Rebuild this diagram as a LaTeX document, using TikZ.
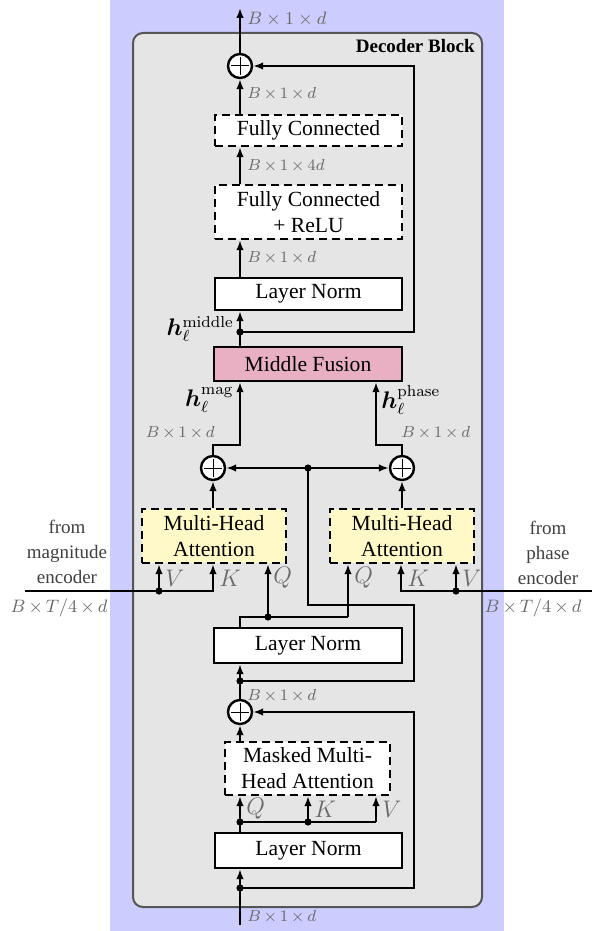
\documentclass[tikz,border=0pt]{standalone}
\usepackage[no-math]{fontspec}
\setmainfont{Liberation Serif}
\usepackage{bm}
\usetikzlibrary{arrows.meta,calc}

\definecolor{bgpurple}{RGB}{204,204,255}
\definecolor{blockgray}{RGB}{229,229,229}
\definecolor{blockedge}{RGB}{85,85,85}
\definecolor{attnyellow}{RGB}{255,249,200}
\definecolor{fusionpink}{RGB}{233,176,196}
\definecolor{dimgray}{RGB}{105,105,105}

\newcommand{\bxd}{$B\,{\times}\,1\,{\times}\,d$}

\begin{document}
\begin{tikzpicture}[x=0.5pt,y=-0.5pt,
  wire/.style={line width=1.3pt},
  conn/.style={line width=1.3pt,-{Latex[length=5pt,width=3.8pt]}},
  blk/.style={draw,line width=1.2pt,fill=white,inner sep=2pt,align=center,
    font=\fontsize{10.8}{13}\selectfont},
  dblk/.style={blk,dash pattern=on 4pt off 2.5pt},
  sumnode/.style={circle,draw,line width=1.2pt,fill=white,minimum size=12pt,inner sep=0pt,
    path picture={\draw[line width=0.5pt]
      ([xshift=-4.5pt]path picture bounding box.center) -- ([xshift=4.5pt]path picture bounding box.center)
      ([yshift=-4.5pt]path picture bounding box.center) -- ([yshift=4.5pt]path picture bounding box.center);}},
  dimlabel/.style={text=dimgray,font=\fontsize{8.5}{10}\selectfont,inner sep=0pt,anchor=west},
  qkv/.style={text=dimgray,font=\fontsize{12}{14}\selectfont,inner sep=0pt,anchor=west},
  hlabel/.style={font=\fontsize{12}{14}\selectfont,inner sep=0pt},
  side/.style={text=black!75,font=\fontsize{9.5}{12.5}\selectfont,align=center,inner sep=0pt},
]
% canvas and backgrounds
\fill[white] (0,0) rectangle (601,931);
\useasboundingbox (0,0) rectangle (601,931);
\fill[bgpurple] (110,0) rectangle (504,931);
\draw[blockedge,fill=blockgray,line width=1pt,rounded corners=5pt] (133,33) rectangle (482,907);
\node[anchor=east,inner sep=0pt,font=\bfseries\fontsize{9.5}{11}\selectfont] (title) at (475,46) {Decoder Block};

% blocks
\node[sumnode] (p1) at (240,66) {};
\node[dblk,minimum width=93.5pt,minimum height=15.5pt] (fc) at (308.5,130.5) {Fully Connected};
\node[dblk,minimum width=93.5pt,minimum height=27pt] (fcr) at (308.5,212) {Fully Connected\\+ ReLU};
\node[blk,minimum width=93.5pt,minimum height=16pt] (ln1) at (308.5,294) {Layer Norm};
\node[blk,fill=fusionpink,minimum width=94pt,minimum height=17pt] (mf) at (308,364) {Middle Fusion};
\node[sumnode] (p2) at (213,468) {};
\node[sumnode] (p3) at (402,468) {};
\node[dblk,fill=attnyellow,minimum width=72pt,minimum height=27pt] (mhal) at (214,536) {Multi-Head\\Attention};
\node[dblk,fill=attnyellow,minimum width=72pt,minimum height=27pt] (mhar) at (402,536) {Multi-Head\\Attention};
\node[blk,minimum width=94pt,minimum height=17.5pt] (ln2) at (308,645.5) {Layer Norm};
\node[sumnode] (p4) at (240,712) {};
\node[dblk,minimum width=82.5pt,minimum height=26.5pt] (mmha) at (307.5,768.5) {Masked Multi-\\Head Attention};
\node[blk,minimum width=93.5pt,minimum height=17.5pt] (ln3) at (308.5,850.5) {Layer Norm};

% junctions and corners
\coordinate (out) at (240,8);
\coordinate (in) at (240,925);
\coordinate (d1) at (240,332);
\coordinate (r1) at (414,332);
\coordinate (ml) at (240,445);
\coordinate (mr) at (376,445);
\coordinate (d2) at (308,468);
\coordinate (k2) at (308,605);
\coordinate (d3) at (240,681);
\coordinate (r3) at (414,681);
\coordinate (d4) at (268,617);
\coordinate (qr) at (348,617);
\coordinate (d5) at (240,888);
\coordinate (r5) at (414,888);
\coordinate (dq) at (240,822);
\coordinate (dk) at (308,822);
\coordinate (vq) at (376,822);
\coordinate (encl) at (25,591);
\coordinate (dvl) at (159,591);
\coordinate (kl) at (213,591);
\coordinate (encr) at (592,591);
\coordinate (dvr) at (456,591);
\coordinate (kr) at (401,591);

% feed-forward part
\draw[conn] (p1.north) -- (out);
\draw[conn] (fc.north -| p1) -- (p1.south);
\draw[conn] (fcr.north -| p1) -- (fc.south -| p1);
\draw[conn] (ln1.north -| p1) -- (fcr.south -| p1);
\draw[conn] (mf.north -| p1) -- (ln1.south -| p1);
\draw[conn] (d1) -- (r1) |- (p1.east);

% fusion of the two cross-attention branches
\draw[conn] (p2.north) |- (ml) -- (mf.south -| ml);
\draw[conn] (p3.north) |- (mr) -- (mf.south -| mr);
\draw[conn] (d2) -- (p2.east);
\draw[conn] (d2) -- (p3.west);
\draw[wire] (d3) -- (r3) -- (r3 |- k2) -- (k2) -- (d2);
\draw[conn] (mhal.north -| p2) -- (p2.south);
\draw[conn] (mhar.north -| p3) -- (p3.south);

% encoder inputs (keys and values)
\draw[conn] (encl) -- (kl) -- (mhal.south -| kl);
\draw[conn] (dvl) -- (mhal.south -| dvl);
\draw[conn] (encr) -- (kr) -- (mhar.south -| kr);
\draw[conn] (dvr) -- (mhar.south -| dvr);

% queries from the second layer norm
\draw[wire] (ln2.north -| d3) -- (d3 |- d4) -- (qr);
\draw[conn] (qr) -- (mhar.south -| qr);
\draw[conn] (d4) -- (mhal.south -| d4);

% masked self-attention part
\draw[conn] (p4.north) -- (ln2.south -| p4);
\draw[conn] (mmha.north -| p4) -- (p4.south);
\draw[conn] (d5) -- (r5) |- (p4.east);
\draw[conn] (in) -- (ln3.south -| in);
\draw[wire] (ln3.north -| dq) -- (dq) -- (vq);
\draw[conn] (dq) -- (mmha.south -| dq);
\draw[conn] (dk) -- (mmha.south -| dk);
\draw[conn] (vq) -- (mmha.south -| vq);

% junction dots
\foreach \j in {d1,d2,d3,d4,d5,dq,dk,dvl,dvr}
  \fill (\j) circle (1.8pt);

% tensor shapes
\node[dimlabel,font=\fontsize{9.5}{11}\selectfont] (dtop) at (247,19) {$B\times1\times d$};
\node[dimlabel] (dfc) at (247,94) {\bxd};
\node[dimlabel] (dfcr) at (247,166) {$B\,{\times}\,1\,{\times}\,4d$};
\node[dimlabel] (dln1) at (247,258) {\bxd};
\node[dimlabel,anchor=east] (dmag) at (215,433) {\bxd};
\node[dimlabel] (dphase) at (401,433) {\bxd};
\node[dimlabel] (dres) at (247,696) {\bxd};
\node[dimlabel] (din) at (247,917) {\bxd};
\node[dimlabel,anchor=center,font=\fontsize{9}{11}\selectfont] (encdl) at (59,608) {$B\,{\times}\,T/4\,{\times}\,d$};
\node[dimlabel,anchor=center,font=\fontsize{9}{11}\selectfont] (encdr) at (533,608) {$B\,{\times}\,T/4\,{\times}\,d$};

% encoder captions
\node[side] (encm) at (67,552) {from\\magnitude\\encoder};
\node[side] (encp) at (548,553) {from\\phase\\encoder};

% hidden states
\node[hlabel,anchor=east] (hmid) at (234,329) {$\bm{h}_\ell^{\mathrm{middle}}$};
\node[hlabel,anchor=east] (hmag) at (234,400) {$\bm{h}_\ell^{\mathrm{mag}}$};
\node[hlabel,anchor=west] (hph) at (381,400) {$\bm{h}_\ell^{\mathrm{phase}}$};

% query / key / value tags
\node[qkv] (vl) at (165,578) {$V$};
\node[qkv] (kll) at (219,578) {$K$};
\node[qkv] (ql) at (273,578) {$Q$};
\node[qkv] (qrl) at (354,578) {$Q$};
\node[qkv] (krl) at (407,578) {$K$};
\node[qkv] (vrl) at (462,578) {$V$};
\node[qkv] (qb) at (246,809) {$Q$};
\node[qkv] (kb) at (314,809) {$K$};
\node[qkv] (vb) at (382,809) {$V$};
\end{tikzpicture}
\end{document}
